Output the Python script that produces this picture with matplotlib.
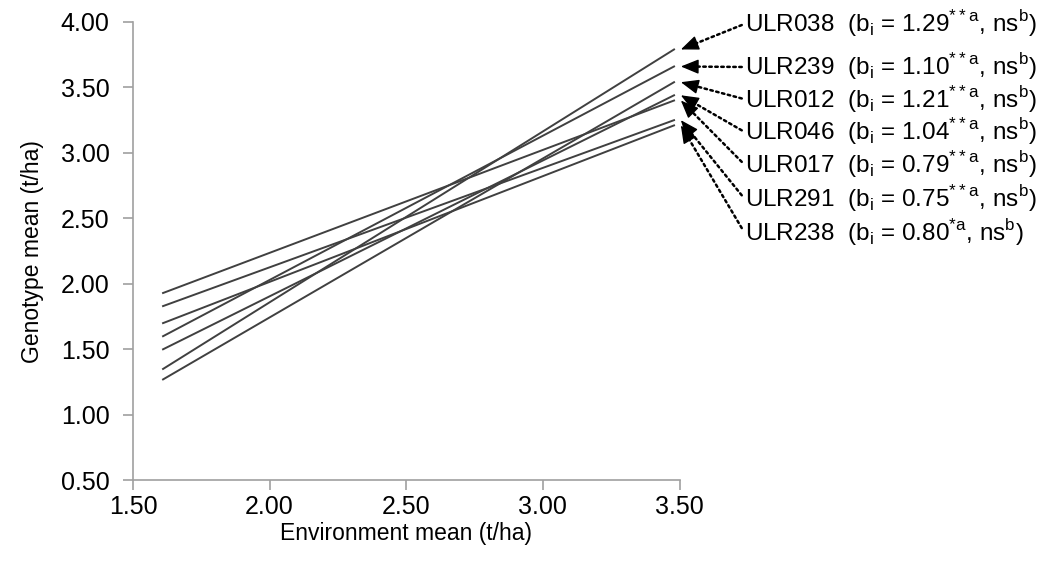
import numpy as np
import matplotlib.pyplot as plt

plt.rcParams['font.family'] = ['Liberation Sans', 'DejaVu Sans']

# Datos: medias ambientales (extremos de la recta) y medias por genotipo
env = [1.61, 3.48]
genotypes = ['ULR038', 'ULR239', 'ULR012', 'ULR046', 'ULR017', 'ULR291', 'ULR238']
slopes = ['1.29', '1.10', '1.21', '1.04', '0.79', '0.75', '0.80']
signif = ['**', '**', '**', '**', '**', '**', '*']
start_vals = [1.35, 1.60, 1.27, 1.50, 1.93, 1.83, 1.70]
end_vals = [3.79, 3.66, 3.54, 3.44, 3.40, 3.25, 3.21]
label_y = [3.985, 3.656, 3.41, 3.16, 2.91, 2.65, 2.39]
label_x = 3.738

fig = plt.figure(figsize=(10.39, 5.63), dpi=100)
ax = fig.add_axes([0.128, 0.147, 0.526, 0.814])

for g0, g1 in zip(start_vals, end_vals):
    ax.plot(env, [g0, g1], color='#404040', lw=1.4)

ax.set_xlim(1.5, 3.5)
ax.set_ylim(0.5, 4.0)

# Etiquetas con flechas punteadas y punta sólida
for name, b, s, y1, ty in zip(genotypes, slopes, signif, end_vals, label_y):
    txt = (name + '  (b$_\\mathregular{i}$ = ' + b + '$^{\\mathregular{' + s + 'a}}$'
           + ', ns$^{\\mathregular{b}}$)')
    tip = (env[1] + 0.025, y1)
    ax.annotate(txt, xy=tip, xytext=(label_x, ty),
                ha='left', va='center', fontsize=17.5, annotation_clip=False,
                arrowprops=dict(arrowstyle='-', linestyle=(0, (1, 1.4)), lw=1.8,
                                color='black', relpos=(0, 0.5), shrinkA=0, shrinkB=6))
    p_tip = ax.transData.transform(tip)
    p_txt = ax.transData.transform((label_x, ty))
    d = (p_txt - p_tip) / np.hypot(*(p_txt - p_tip))
    ax.annotate('', xy=tip, xytext=tuple(d * 14), textcoords='offset pixels',
                annotation_clip=False,
                arrowprops=dict(arrowstyle='-|>,head_length=1.1,head_width=0.45',
                                mutation_scale=10, color='black', lw=1,
                                shrinkA=0, shrinkB=0))

ax.set_xticks([1.5, 2.0, 2.5, 3.0, 3.5])
ax.set_yticks([0.5, 1.0, 1.5, 2.0, 2.5, 3.0, 3.5, 4.0])
ax.xaxis.set_major_formatter(plt.FormatStrFormatter('%.2f'))
ax.yaxis.set_major_formatter(plt.FormatStrFormatter('%.2f'))
ax.tick_params(labelsize=18, length=7, color='#a0a0a0', width=1.2)
ax.tick_params(axis='y', pad=10)
ax.spines['top'].set_visible(False)
ax.spines['right'].set_visible(False)
for sp in ['left', 'bottom']:
    ax.spines[sp].set_color('#a0a0a0')
    ax.spines[sp].set_linewidth(1.2)

ax.set_xlabel('Environment mean (t/ha)', fontsize=16.5, labelpad=2)
ax.set_ylabel('Genotype mean (t/ha)', fontsize=16.5, labelpad=12)

fig.savefig('out.png', dpi=100)
